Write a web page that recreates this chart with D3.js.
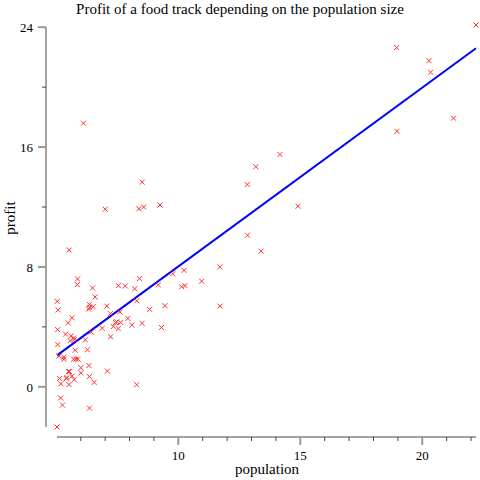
<!DOCTYPE html>
<html><head><meta charset="utf-8">
<script src="https://cdn.jsdelivr.net/npm/d3@7"></script>
<style>body{margin:0;background:#fff}text{font-family:"Liberation Serif",serif}</style>
</head><body>
<svg id="c" width="480" height="480"></svg>
<script>
// ex1 data: population (10k) vs profit ($10k)
var population = [6.1101,5.5277,8.5186,7.0032,5.8598,8.3829,7.4764,8.5781,6.4862,5.0546,5.7107,14.164,5.734,8.4084,5.6407,5.3794,6.3654,5.1301,6.4296,7.0708,6.1891,20.27,5.4901,6.3261,5.5649,18.945,12.828,10.957,13.176,22.203,5.2524,6.5894,9.2482,5.8918,8.2111,7.9334,8.0959,5.6063,12.836,6.3534,5.4069,6.8825,11.708,5.7737,7.8247,7.0931,5.0702,5.8014,11.7,5.5416,7.5402,5.3077,7.4239,7.6031,6.3328,6.3589,6.2742,5.6397,9.3102,9.4536,8.8254,5.1793,21.279,14.908,18.959,7.2182,8.2951,10.236,5.4994,20.341,10.136,7.3345,6.0062,7.2259,5.0269,6.5479,7.5386,5.0365,10.274,5.1077,5.7292,5.1884,6.3557,9.7687,6.5159,8.5172,9.1802,6.002,5.5204,5.0594,5.7077,7.6366,5.8707,5.3054,8.2934,13.394,5.4369];
var profit = [17.592,9.1302,13.662,11.854,6.8233,11.886,4.3483,12,6.5987,3.8166,3.2522,15.505,3.1551,7.2258,0.71618,3.5129,5.3048,0.56077,3.6518,5.3893,3.1386,21.767,4.263,5.1875,3.0825,22.638,13.501,7.0467,14.692,24.147,-1.22,5.9966,12.134,1.8495,6.5426,4.5623,4.1164,3.3928,10.117,5.4974,0.55657,3.9115,5.3854,2.4406,6.7318,1.0463,5.1337,1.844,8.0043,1.0179,6.7504,1.8396,4.2885,4.9981,1.4233,-1.4211,2.4756,4.6042,3.9624,5.4141,5.1694,-0.74279,17.929,12.054,17.054,4.8852,5.7442,7.7754,1.0173,20.992,6.6799,4.0259,1.2784,3.3411,-2.6807,0.29678,3.8845,5.7014,6.7526,2.0576,0.47953,0.20421,0.67861,7.5435,5.3436,4.2415,6.7981,0.92695,0.152,2.8214,1.8451,4.2959,7.2029,1.9869,0.14454,9.0551,0.61705];
var theta = [-3.8958, 1.1930];
var xTicks = [10, 15, 20];
var yTicks = [0, 8, 16, 24];

var svg = d3.select('#c');
var x = d3.scaleLinear().domain(d3.extent(population)).range([57, 476]);
var y = d3.scaleLinear().domain(d3.extent(profit)).range([427, 25]);

// x axis
var gx = svg.append('g').attr('transform', 'translate(0,437)');
gx.append('line').attr('x1', 57).attr('x2', 476).attr('stroke', '#444');
gx.selectAll('.mn').data(d3.range(6, 23)).enter().append('line')
  .attr('x1', x).attr('x2', x).attr('y2', function(d) { return d % 5 ? 4 : 8; })
  .attr('stroke', function(d) { return d % 5 ? '#444' : '#999'; }).attr('stroke-width', function(d) { return d % 5 ? 1 : 2; });
gx.selectAll('text').data(xTicks).enter().append('text')
  .attr('x', x).attr('y', 23).attr('text-anchor', 'middle').attr('font-size', 13).text(String);
svg.append('text').attr('x', 267).attr('y', 474).attr('text-anchor', 'middle').attr('font-size', 15).text('population');

// y axis
var gy = svg.append('g').attr('transform', 'translate(46,0)');
gy.append('line').attr('y1', y(-2.68)).attr('y2', y(24)).attr('stroke', '#444');
gy.selectAll('.mn').data(d3.range(0, 25, 4)).enter().append('line')
  .attr('y1', y).attr('y2', y).attr('x2', function(d) { return d % 8 ? -4 : -8; })
  .attr('stroke', function(d) { return d % 8 ? '#444' : '#999'; }).attr('stroke-width', function(d) { return d % 8 ? 1 : 2; });
gy.selectAll('text').data(yTicks).enter().append('text')
  .attr('x', -13).attr('y', function(d) { return y(d) + 5; }).attr('text-anchor', 'end').attr('font-size', 13).text(String);
svg.append('text').attr('transform', 'translate(15,218) rotate(-90)').attr('text-anchor', 'middle').attr('font-size', 15).text('profit');

svg.append('text').attr('x', 240).attr('y', 14).attr('text-anchor', 'middle').attr('font-size', 15)
  .text('Profit of a food track depending on the population size');

// fitted line
var xs = d3.extent(population);
svg.append('line')
  .attr('x1', x(xs[0])).attr('y1', y(theta[0] + theta[1] * xs[0]))
  .attr('x2', x(xs[1])).attr('y2', y(theta[0] + theta[1] * xs[1]))
  .attr('stroke', '#0000ff').attr('stroke-width', 2);

// points
svg.selectAll('.pt').data(population).enter().append('path')
  .attr('d', function(d, i) {
    var px = x(d), py = y(profit[i]), s = 2.5;
    return 'M' + (px - s) + ',' + (py - s) + 'L' + (px + s) + ',' + (py + s) +
           'M' + (px - s) + ',' + (py + s) + 'L' + (px + s) + ',' + (py - s);
  })
  .attr('stroke', '#ff3030').attr('stroke-width', 1).attr('fill', 'none');
</script>
</body></html>
